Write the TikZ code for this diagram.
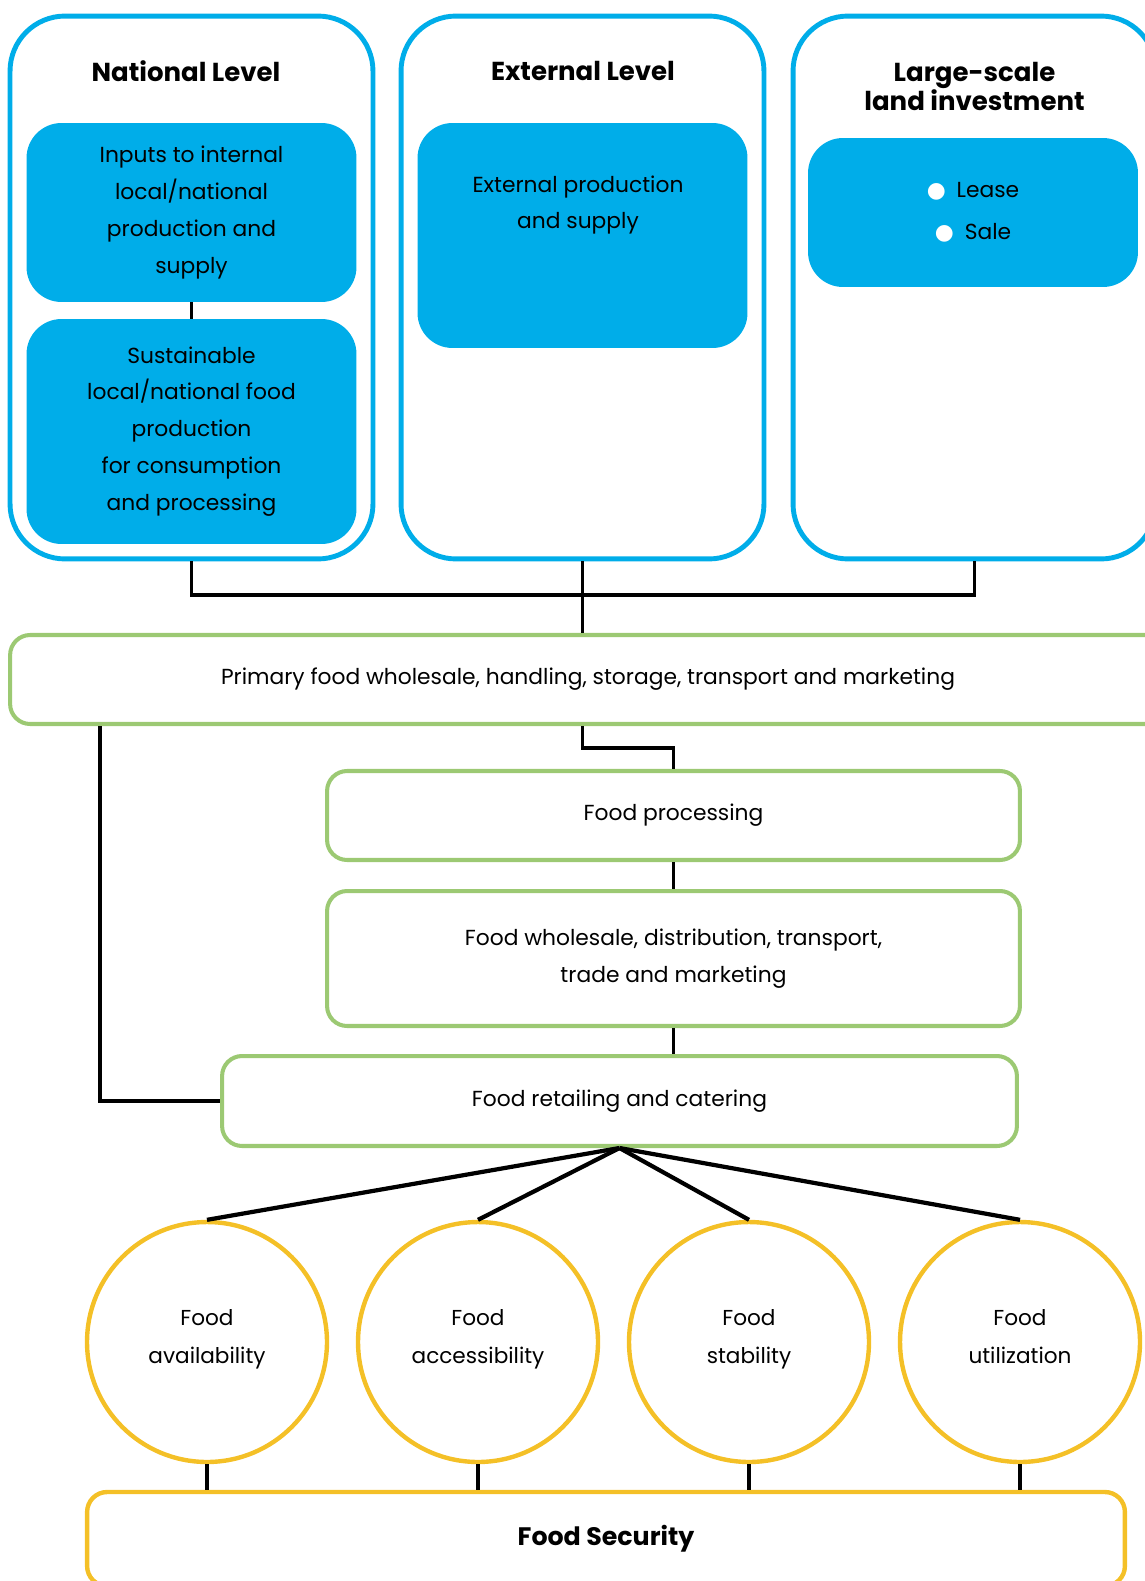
\documentclass[tikz,border=0pt]{standalone}
\usepackage{fontspec}
\setmainfont{Poppins}
\newfontfamily\dotfont{DejaVu Sans}
\usepackage{tikz}

\definecolor{levelblue}{HTML}{00ADE9}
\definecolor{chaingreen}{HTML}{9CC973}
\definecolor{pillaryellow}{HTML}{F4C027}

\newcommand\whitedot{{\dotfont\color{white}●}}

\begin{document}
\begin{tikzpicture}[x=0.02cm,y=-0.02cm,
        level/.style={draw=levelblue,line width=2.8pt,rounded corners=1.1cm,minimum width=7.26cm,minimum height=10.86cm},
        heading/.style={font=\fontsize{14.8}{16.5}\selectfont\bfseries,align=center},
        inputs/.style={fill=levelblue,rounded corners=0.7cm,minimum width=6.6cm,align=center,font=\fontsize{12.4}{21}\selectfont},
        chain/.style={draw=chaingreen,line width=2.3pt,rounded corners=0.4cm,align=center,font=\fontsize{12.4}{21}\selectfont},
        pillar/.style={circle,draw=pillaryellow,line width=2.5pt,minimum size=4.8cm,align=center,font=\fontsize{12.3}{21.7}\selectfont,execute at end node=\strut},
        link/.style={line width=1.8pt},
        heavylink/.style={line width=2.4pt}
    ]
    \useasboundingbox (0,0) rectangle (1145,1581);

    \node[level] (national) at (191.5,287.5) {};
    \node[level] (external) at (582.5,287.5) {};
    \node[level] (investment) at (974.5,287.5) {};

    \node[heading] (nationaltitle) at (186,71) {National Level};
    \node[heading] (externaltitle) at (583,71) {External Level};
    \node[heading] (investmenttitle) at (974.5,86) {Large-scale\\land investment};

    \node[inputs,minimum height=3.58cm] (inputsbox) at (191.5,212.5) {Inputs to internal\\local/national\\production and\\supply};
    \node[inputs,minimum height=4.5cm] (sustainable) at (191.5,431.5) {Sustainable\\local/national food\\production\\for consumption\\and processing};
    \node[inputs,minimum height=4.5cm] (externalbox) at (582.5,235.5) {};
    \node[align=center,font=\fontsize{12.4}{21}\selectfont] (externaltext) at (578,205) {External production\\and supply};
    \node[inputs,minimum height=2.98cm,font=\fontsize{12.4}{24}\selectfont] (investmentbox) at (973,212.5)
        {\whitedot\enspace Lease\\\whitedot\enspace Sale};

    \draw[link] (inputsbox) -- (sustainable);

    \node[chain,minimum width=23.12cm,minimum height=1.78cm] (primary) at (588,679.5) {Primary food wholesale, handling, storage, transport and marketing};
    \node[chain,minimum width=13.86cm,minimum height=1.78cm] (processing) at (673.5,815.5) {Food processing};
    \node[chain,minimum width=13.86cm,minimum height=2.7cm] (wholesale) at (673.5,958.5) {Food wholesale, distribution, transport,\\trade and marketing};
    \node[chain,minimum width=15.9cm,minimum height=1.8cm] (retail) at (619.5,1101) {Food retailing and catering};

    \coordinate (bus) at (0,595);
    \coordinate (bypass) at (100,0);

    \draw[link] (national.south) -- (national.south |- bus) -- (investment.south |- bus) -- (investment.south);
    \draw[link] (external.south) -- (external.south |- primary.north);
    \draw[link] (external.south |- primary.south) -- ++(0,22) -| (processing.north);
    \draw[link] (processing) -- (wholesale);
    \draw[link] (wholesale.south) -- (wholesale.south |- retail.north);
    \draw[link] (bypass |- primary.south) |- (retail.west);

    \node[pillar] (availability) at (207,1342) {Food\\availability};
    \node[pillar] (accessibility) at (478,1342) {Food\\accessibility};
    \node[pillar] (stability) at (749,1342) {Food\\stability};
    \node[pillar] (utilization) at (1020,1342) {Food\\utilization};

    \node[draw=pillaryellow,line width=2.5pt,rounded corners=0.4cm,minimum width=20.76cm,minimum height=1.88cm,font=\fontsize{14.4}{16}\selectfont\bfseries] (security) at (606,1539) {Food Security};

    \foreach \p in {availability,accessibility,stability,utilization} {
        \draw[heavylink] (retail.south) -- (\p.north);
        \draw[heavylink] (\p.south) -- (\p.south |- security.north);
    }

    \end{tikzpicture}
\end{document}
